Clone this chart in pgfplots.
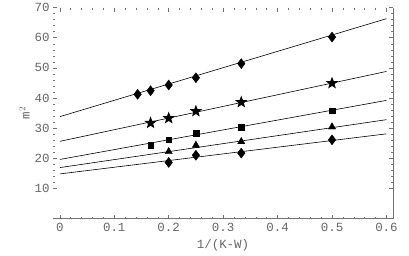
\documentclass[border=0pt]{standalone}
\usepackage{pgfplots}
\pgfplotsset{compat=1.18}
\usepackage{fontspec}
\setmainfont{Liberation Mono}
\definecolor{fr}{gray}{0.45}
\definecolor{tx}{gray}{0.4}
\pgfdeclareplotmark{fstar}{%
  \pgfpathmoveto{\pgfpointpolar{90}{\pgfplotmarksize}}%
  \pgfpathlineto{\pgfpointpolar{126}{0.42\pgfplotmarksize}}%
  \pgfpathlineto{\pgfpointpolar{162}{\pgfplotmarksize}}%
  \pgfpathlineto{\pgfpointpolar{198}{0.42\pgfplotmarksize}}%
  \pgfpathlineto{\pgfpointpolar{234}{\pgfplotmarksize}}%
  \pgfpathlineto{\pgfpointpolar{270}{0.42\pgfplotmarksize}}%
  \pgfpathlineto{\pgfpointpolar{306}{\pgfplotmarksize}}%
  \pgfpathlineto{\pgfpointpolar{342}{0.42\pgfplotmarksize}}%
  \pgfpathlineto{\pgfpointpolar{18}{\pgfplotmarksize}}%
  \pgfpathlineto{\pgfpointpolar{54}{0.42\pgfplotmarksize}}%
  \pgfpathclose\pgfusepathqfill}
\begin{document}
\begin{tikzpicture}
\begin{axis}[
  scale only axis, width=340bp, height=211bp,
  xmin=-0.0125, xmax=0.612, ymin=0, ymax=70,
  axis line style={draw=none},
  xtick={0,0.1,0.2,0.3,0.4,0.5,0.6},
  xticklabels={0,0.1,0.2,0.3,0.4,0.5,0.6},
  ytick={10,20,30,40,50,60,70},
  yticklabels={10,20,30,40,50,60,70},
  minor x tick num=4, minor y tick num=4,
  tick align=inside,
  major tick length=4bp, minor tick length=2bp,
  every tick/.style={fr, line width=0.4bp},
  tick label style={font=\fontsize{12.5}{14}\selectfont, text=tx},
  xticklabel style={yshift=-1bp},
  xlabel={1/(K-W)}, ylabel={m$^2$},
  label style={font=\fontsize{12.5}{14}\selectfont, text=tx},
  xlabel style={yshift=-1bp},
  ylabel style={yshift=-2bp},
  clip=false,
]
\draw[fr, line width=0.5bp] (rel axis cs:0,0) -- (rel axis cs:1,0) -- (rel axis cs:1,1);
\coordinate (bl) at (rel axis cs:0,0);
% fitted lines
\addplot[black, line width=0.6bp] coordinates {(0,33.8) (0.6,66.3)};
\addplot[black, line width=0.6bp] coordinates {(0,25.6) (0.6,48.8)};
\addplot[black, line width=0.6bp] coordinates {(0,19.6) (0.6,39.2)};
\addplot[black, line width=0.6bp] coordinates {(0,16.9) (0.6,32.8)};
\addplot[black, line width=0.6bp] coordinates {(0,14.8) (0.6,28.1)};
% data
\addplot[only marks, mark=diamond*, mark size=5bp, mark options={fill=black, draw=black}]
  coordinates {(0.1429,41.2) (0.1667,42.4) (0.2,44.3) (0.25,46.7) (0.3333,51.4) (0.5,60.2)};
\addplot[only marks, mark=fstar, mark size=6.5bp, mark options={fill=black}]
  coordinates {(0.1667,31.7) (0.2,33.3) (0.25,35.6) (0.3333,38.6) (0.5,44.9)};
\addplot[only marks, mark=square*, mark size=2.8bp, mark options={fill=black, draw=black}]
  coordinates {(0.1667,24.4) (0.2,26.1) (0.25,28.3) (0.3333,30.3) (0.5,35.8)};
\addplot[only marks, mark=triangle*, mark size=4.2bp, mark options={fill=black, draw=black}]
  coordinates {(0.2,22.2) (0.25,24.3) (0.3333,25.5) (0.5,30.4)};
\addplot[only marks, mark=diamond*, mark size=5bp, mark options={fill=black, draw=black}]
  coordinates {(0.2,18.6) (0.25,21.0) (0.3333,21.7) (0.5,26.1)};
\end{axis}
\path (bl) ++(-53bp,-36.5bp) rectangle ++(409bp,253bp);
\end{tikzpicture}
\end{document}
